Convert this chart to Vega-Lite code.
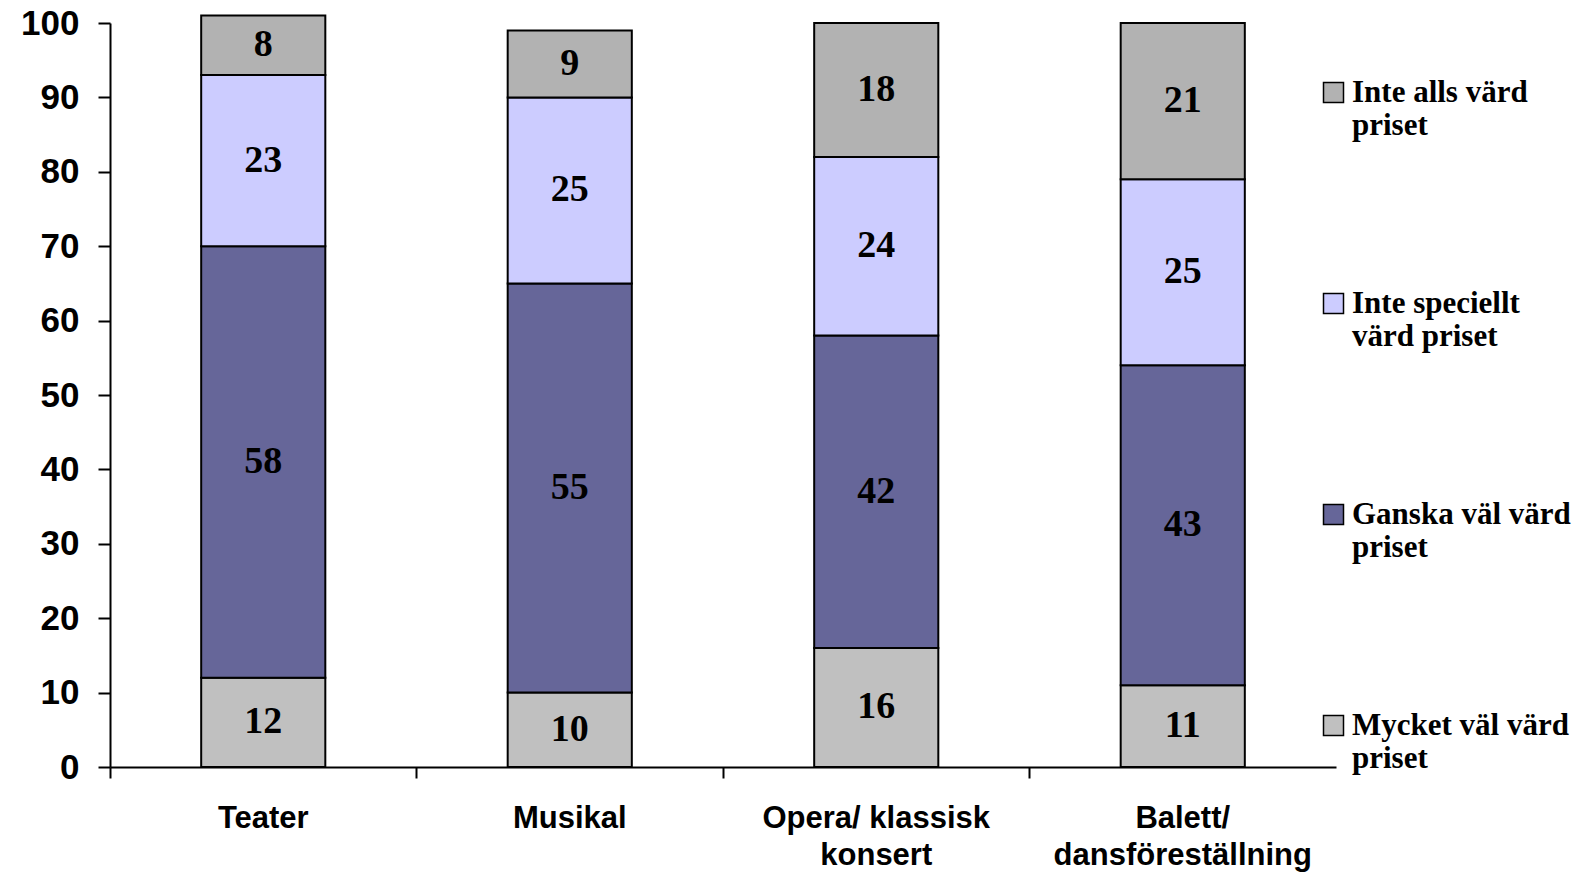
{
  "$schema": "https://vega.github.io/schema/vega-lite/v6.json",
  "width": 1226,
  "height": 744,
  "autosize": {"type": "none"},
  "padding": {"left": 110, "top": 23, "right": 245, "bottom": 107},
  "background": "white",
  "config": {"view": {"stroke": null}},
  "data": {
    "values": [
      {"cat": "Teater", "series": "Mycket väl värd priset", "ord": 1, "value": 12},
      {"cat": "Teater", "series": "Ganska väl värd priset", "ord": 2, "value": 58},
      {"cat": "Teater", "series": "Inte speciellt värd priset", "ord": 3, "value": 23},
      {"cat": "Teater", "series": "Inte alls värd priset", "ord": 4, "value": 8},
      {"cat": "Musikal", "series": "Mycket väl värd priset", "ord": 1, "value": 10},
      {"cat": "Musikal", "series": "Ganska väl värd priset", "ord": 2, "value": 55},
      {"cat": "Musikal", "series": "Inte speciellt värd priset", "ord": 3, "value": 25},
      {"cat": "Musikal", "series": "Inte alls värd priset", "ord": 4, "value": 9},
      {"cat": "Opera/ klassisk konsert", "series": "Mycket väl värd priset", "ord": 1, "value": 16},
      {"cat": "Opera/ klassisk konsert", "series": "Ganska väl värd priset", "ord": 2, "value": 42},
      {"cat": "Opera/ klassisk konsert", "series": "Inte speciellt värd priset", "ord": 3, "value": 24},
      {"cat": "Opera/ klassisk konsert", "series": "Inte alls värd priset", "ord": 4, "value": 18},
      {"cat": "Balett/ dansföreställning", "series": "Mycket väl värd priset", "ord": 1, "value": 11},
      {"cat": "Balett/ dansföreställning", "series": "Ganska väl värd priset", "ord": 2, "value": 43},
      {"cat": "Balett/ dansföreställning", "series": "Inte speciellt värd priset", "ord": 3, "value": 25},
      {"cat": "Balett/ dansföreställning", "series": "Inte alls värd priset", "ord": 4, "value": 21}
    ]
  },
  "encoding": {
    "x": {
      "field": "cat",
      "type": "nominal",
      "sort": ["Teater", "Musikal", "Opera/ klassisk konsert", "Balett/ dansföreställning"],
      "scale": {"paddingInner": 0, "paddingOuter": 0},
      "axis": {
        "title": null,
        "labelAngle": 0,
        "domainColor": "black",
        "domainWidth": 2,
        "tickColor": "black",
        "tickWidth": 2,
        "tickSize": 11,
        "bandPosition": 0,
        "labelFont": "Liberation Sans",
        "labelFontWeight": "bold",
        "labelFontSize": 31,
        "labelColor": "black",
        "labelPadding": 25,
        "labelLimit": 500,
        "labelLineHeight": 37,
        "labelExpr": "datum.value == 'Opera/ klassisk konsert' ? ['Opera/ klassisk', 'konsert'] : datum.value == 'Balett/ dansföreställning' ? ['Balett/', 'dansföreställning'] : datum.value"
      }
    }
  },
  "layer": [
    {
      "mark": {"type": "bar", "stroke": "black", "strokeWidth": 2, "width": {"band": 0.405}},
      "encoding": {
        "y": {
          "field": "value",
          "type": "quantitative",
          "stack": "zero",
          "scale": {"domain": [0, 100], "nice": false},
          "axis": {
            "title": null,
            "values": [0, 10, 20, 30, 40, 50, 60, 70, 80, 90, 100],
            "grid": false,
            "domainColor": "black",
            "domainWidth": 2,
            "tickColor": "black",
            "tickWidth": 2,
            "tickSize": 12,
            "labelFont": "Liberation Sans",
            "labelFontWeight": "bold",
            "labelFontSize": 35,
            "labelColor": "black",
            "labelPadding": 19
          }
        },
        "color": {
          "field": "series",
          "type": "nominal",
          "scale": {
            "domain": ["Inte alls värd priset", "Inte speciellt värd priset", "Ganska väl värd priset", "Mycket väl värd priset"],
            "range": ["#B2B2B2", "#CCCCFF", "#666699", "#C0C0C0"]
          },
          "legend": {
            "title": null,
            "orient": "none",
            "legendX": 1208,
            "legendY": 54,
            "symbolType": "square",
            "symbolSize": 400,
            "symbolStrokeColor": "black",
            "symbolStrokeWidth": 1.5,
            "symbolOpacity": 1,
            "labelFont": "Liberation Serif",
            "labelFontWeight": "bold",
            "labelFontSize": 31,
            "labelColor": "black",
            "labelBaseline": "middle",
            "labelLineHeight": 37,
            "labelLimit": 400,
            "labelOffset": 3,
            "rowPadding": 146,
            "labelExpr": "datum.label == 'Inte speciellt värd priset' ? ['Inte speciellt', 'värd priset'] : [replace(datum.label, ' priset', ''), 'priset']"
          }
        },
        "order": {"field": "ord", "type": "quantitative"}
      }
    },
    {
      "transform": [
        {"stack": "value", "groupby": ["cat"], "sort": [{"field": "ord", "order": "ascending"}], "as": ["v0", "v1"]},
        {"fold": ["v0", "v1"], "as": ["k", "pos"]}
      ],
      "mark": {"type": "text", "font": "Liberation Serif", "fontWeight": "bold", "fontSize": 38, "color": "black", "baseline": "middle"},
      "encoding": {
        "y": {"field": "pos", "type": "quantitative", "aggregate": "mean"},
        "detail": {"field": "series"},
        "text": {"field": "value", "type": "quantitative", "aggregate": "max"}
      }
    }
  ]
}
